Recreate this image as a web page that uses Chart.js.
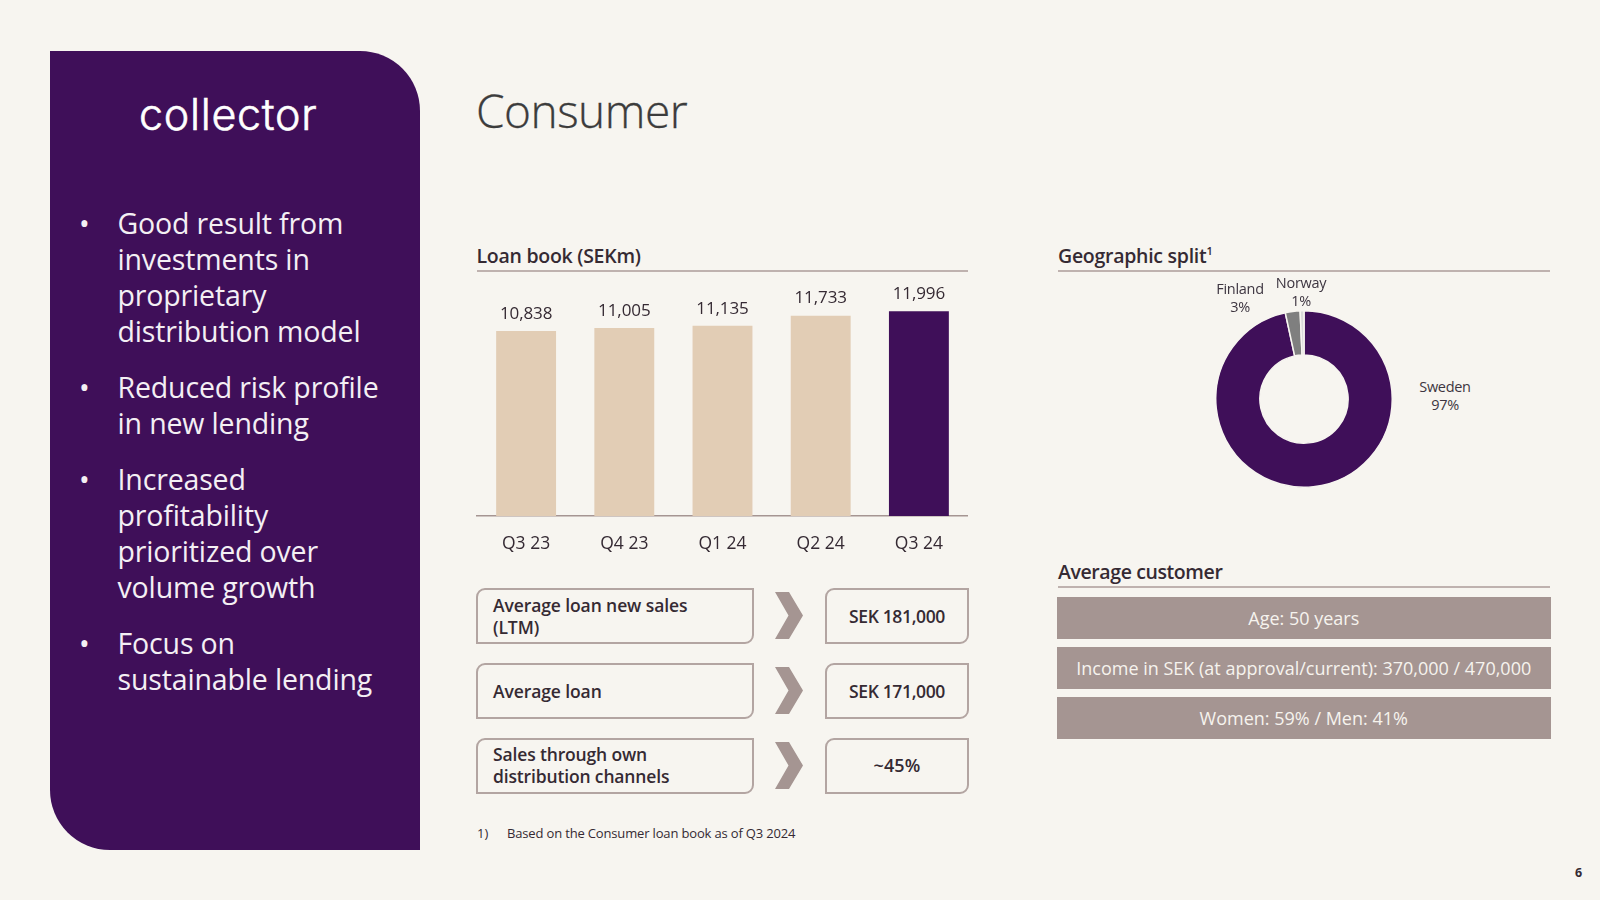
<!DOCTYPE html>
<html><head><meta charset="utf-8">
<script src="https://cdn.jsdelivr.net/npm/chart.js@4"></script>
<style>
html,body{margin:0;padding:0;background:#F7F5F0;width:1600px;height:900px;overflow:hidden}
body{position:relative;font-family:"Open Sans","Noto Sans",sans-serif;color:#352A33}
.a{position:absolute;white-space:nowrap}
#panel{position:absolute;left:50px;top:51px;width:370px;height:799px;background:#3F0F59;border-top-right-radius:60px;border-bottom-left-radius:60px}
#logo{left:139px;top:84px;font:300 43px/60px Inter;letter-spacing:0.7px;color:#fff;-webkit-text-stroke:.6px #fff}
.bl{left:117.5px;color:#F4EFF4;font-size:28.5px;line-height:36px;letter-spacing:-.15px}
.dot{left:79px;color:#F4EFF4;font-size:28.5px;line-height:36px}
#title{left:476px;top:76px;font-size:46px;line-height:68px;font-weight:300;color:#3C3C3C;letter-spacing:-.5px;-webkit-text-stroke:.3px #3C3C3C}
.h{font-size:19.5px;line-height:26px;font-weight:600;color:#352A33;letter-spacing:-.27px}
.h sup{font-size:11px;line-height:0;position:relative;top:-1px}
.rule{position:absolute;height:2px;background:#BFB2AF}
.box{position:absolute;box-sizing:border-box;height:56px;border:2px solid #B3A5A2;border-top-left-radius:9px;border-bottom-right-radius:9px}
.bt{font-size:17.5px;line-height:22px;font-weight:600;letter-spacing:-.1px;color:#352A33;position:absolute;white-space:nowrap}
.bv{transform:translateX(-50%);left:897px;letter-spacing:-.35px}
.chev{position:absolute;left:775px;width:28px;height:47px}
.strip{position:absolute;left:1057px;width:493.5px;height:42px;background:#A59592;color:#F6F3EE;font-size:18px;line-height:42px;text-align:center;font-weight:500;letter-spacing:0}
.dl{position:absolute;transform:translateX(-50%);text-align:center;font-size:14.5px;line-height:18px;color:#3D3540;letter-spacing:-.3px;white-space:nowrap}
canvas{position:absolute}
</style></head><body>
<div id="panel"></div>
<div class="a" id="logo">collector</div>
<div class="a dot" style="top:205px">•</div>
<div class="a bl" style="top:205px">Good result from<br>investments in<br>proprietary<br>distribution model</div>
<div class="a dot" style="top:369px">•</div>
<div class="a bl" style="top:369px">Reduced risk profile<br>in new lending</div>
<div class="a dot" style="top:461px">•</div>
<div class="a bl" style="top:461px">Increased<br>profitability<br>prioritized over<br>volume growth</div>
<div class="a dot" style="top:625px">•</div>
<div class="a bl" style="top:625px">Focus on<br>sustainable lending</div>

<div class="a" id="title">Consumer</div>

<div class="a h" style="left:476.5px;top:243px">Loan book (SEKm)</div>
<div class="rule" style="left:476.5px;top:270px;width:491.5px"></div>
<div class="a h" style="left:1058px;top:243px">Geographic split<sup>1</sup></div>
<div class="rule" style="left:1058px;top:270px;width:492px"></div>
<div class="a h" style="left:1058px;top:559px;letter-spacing:-.4px">Average customer</div>
<div class="rule" style="left:1058px;top:586px;width:492px"></div>

<canvas id="bars" width="492" height="300" style="left:476px;top:280px;width:492px;height:300px"></canvas>
<canvas id="donut" width="178" height="178" style="left:1215px;top:310px;width:178px;height:178px"></canvas>

<div class="dl" style="left:1240px;top:280px">Finland<br>3%</div>
<div class="dl" style="left:1301px;top:274px">Norway<br>1%</div>
<div class="dl" style="left:1445px;top:378px">Sweden<br>97%</div>

<div class="box" style="left:476px;top:588px;width:278px"></div>
<div class="box" style="left:825px;top:588px;width:144px"></div>
<div class="box" style="left:476px;top:663px;width:278px"></div>
<div class="box" style="left:825px;top:663px;width:144px"></div>
<div class="box" style="left:476px;top:738px;width:278px"></div>
<div class="box" style="left:825px;top:738px;width:144px"></div>
<svg class="chev" style="top:592px" viewBox="0 0 28 47"><polygon points="0,0 14,0 28,23.5 14,47 0,47 13.5,23.5" fill="#A59592"/></svg>
<svg class="chev" style="top:667px" viewBox="0 0 28 47"><polygon points="0,0 14,0 28,23.5 14,47 0,47 13.5,23.5" fill="#A59592"/></svg>
<svg class="chev" style="top:742px" viewBox="0 0 28 47"><polygon points="0,0 14,0 28,23.5 14,47 0,47 13.5,23.5" fill="#A59592"/></svg>
<div class="bt" style="left:493px;top:594px">Average loan new sales<br>(LTM)</div>
<div class="bt" style="left:493px;top:680px">Average loan</div>
<div class="bt" style="left:493px;top:743px;letter-spacing:-.15px">Sales through own<br>distribution channels</div>
<div class="bt bv" style="top:605px">SEK 181,000</div>
<div class="bt bv" style="top:680px">SEK 171,000</div>
<div class="bt bv" style="top:754px;letter-spacing:.1px;font-size:18px">~45%</div>

<div class="strip" style="top:597px">Age: 50 years</div>
<div class="strip" style="top:647px">Income in SEK (at approval/current): 370,000 / 470,000</div>
<div class="strip" style="top:697px">Women: 59% / Men: 41%</div>

<div class="a" style="left:477px;top:824px;font-size:13px;line-height:18px;color:#352A33">1)</div>
<div class="a" style="left:507px;top:824px;font-size:13px;line-height:18px;color:#352A33;letter-spacing:-.16px">Based on the Consumer loan book as of Q3 2024</div>
<div class="a" style="left:1575px;top:864px;font-size:12.5px;line-height:18px;font-weight:700;color:#352A33">6</div>

<script>
const quarters = ["Q3 23","Q4 23","Q1 24","Q2 24","Q3 24"];
const loanBook = [10838,11005,11135,11733,11996];
const barColors = ["#E2CDB5","#E2CDB5","#E2CDB5","#E2CDB5","#3F0F59"];
const regions = ["Sweden","Finland","Norway"];
const regionShare = [96.6,2.7,0.7];
const regionColors = ["#3F0F59","#7F7F7F","#D9D9D9"];
const BG = "#F7F5F0";

Chart.defaults.animation = false;
Chart.defaults.font.family = '"Open Sans","Noto Sans",sans-serif';

const barValueLabels = {
  id:"barValueLabels",
  afterDatasetsDraw(c){
    const g=c.ctx, m=c.getDatasetMeta(0);
    g.save();
    g.font='17px "Open Sans"';
    g.fillStyle="#352A33";
    g.textAlign="center";
    g.textBaseline="middle";
    if("letterSpacing" in g) g.letterSpacing="-0.1px";
    m.data.forEach((el,i)=>g.fillText(loanBook[i].toLocaleString("en-US"),el.x,el.y-17));
    g.restore();
  }
};

new Chart(document.getElementById("bars"),{
  type:"bar",
  data:{labels:quarters,datasets:[{data:loanBook,backgroundColor:barColors,barPercentage:0.61,categoryPercentage:1,borderWidth:0}]},
  options:{
    responsive:false,
    layout:{padding:{top:14,left:1,right:0,bottom:0}},
    plugins:{legend:{display:false},tooltip:{enabled:false}},
    scales:{
      x:{
        afterFit(s){s.height=64;},
        grid:{display:false,drawTicks:false},
        border:{display:true,color:"#A59592",width:1.5},
        ticks:{color:"#352A33",font:{size:17.5},padding:18,maxRotation:0}
      },
      y:{display:false,min:0,max:13000}
    }
  },
  plugins:[barValueLabels]
});

new Chart(document.getElementById("donut"),{
  type:"doughnut",
  data:{labels:regions,datasets:[{data:regionShare,backgroundColor:regionColors,borderColor:BG,borderWidth:1.5}]},
  options:{
    responsive:false,
    cutout:"50%",
    layout:{padding:0},
    plugins:{legend:{display:false},tooltip:{enabled:false}}
  }
});
</script>
</body></html>
